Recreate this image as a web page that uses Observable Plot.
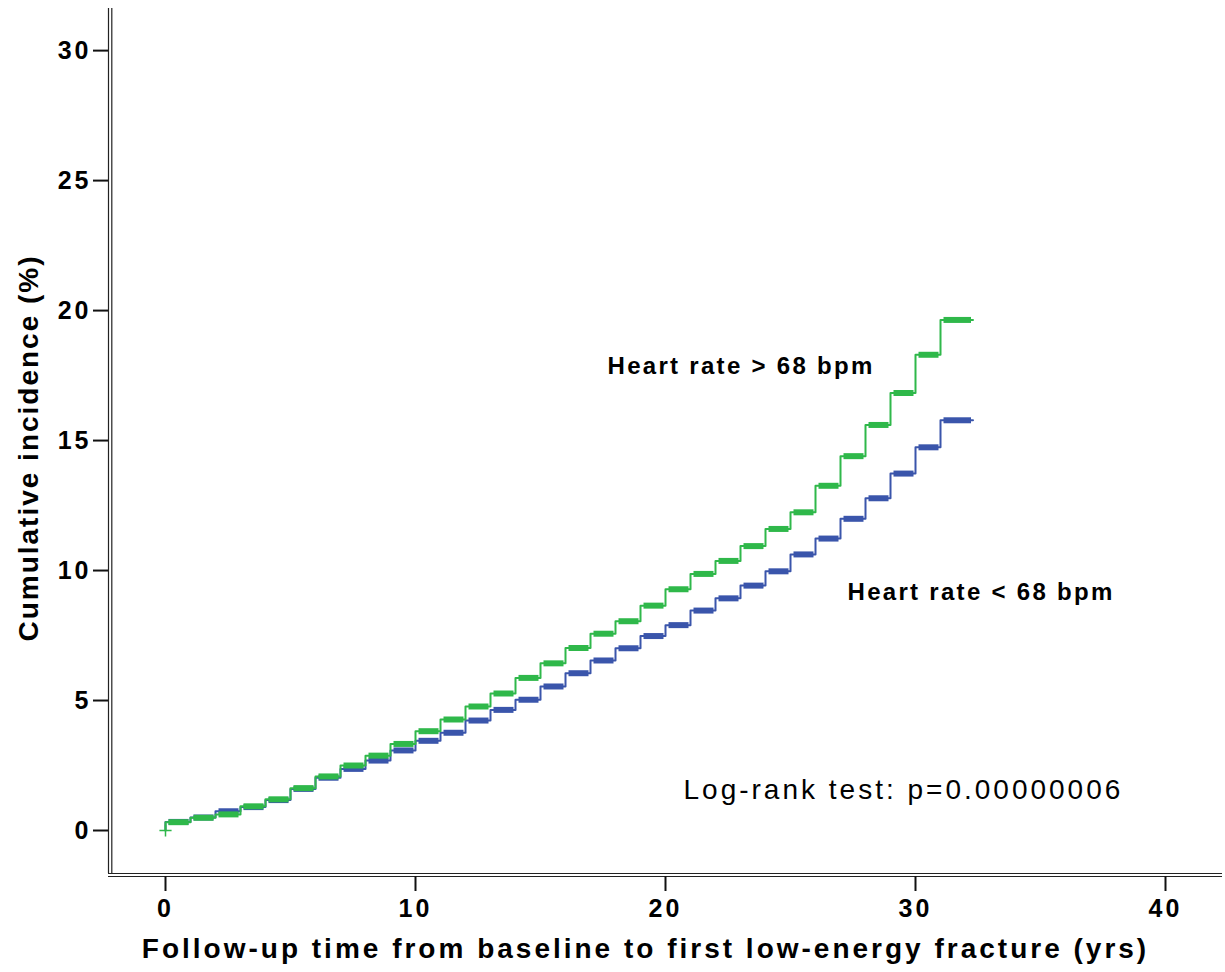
<!DOCTYPE html>
<html>
<head>
<meta charset="utf-8">
<script src="https://cdn.jsdelivr.net/npm/d3@7"></script>
<script src="https://cdn.jsdelivr.net/npm/@observablehq/plot@0.6"></script>
<style>
  body { margin: 0; background: #fff; }
  #chart svg { display: block; }
</style>
</head>
<body>
<div id="chart"></div>
<script>
// ---- data ----
const stepYears = [0,1,2,3,4,5,6,7,8,9,10,11,12,13,14,15,16,17,18,19,20,21,22,23,24,25,26,27,28,29,30,31];
const endYear = 32.3;
// Heart rate > 68 bpm (green)
const highHRLevels = [0.32,0.49,0.62,0.93,1.2,1.63,2.08,2.5,2.88,3.33,3.82,4.27,4.77,5.27,5.87,6.43,7.02,7.57,8.05,8.65,9.28,9.87,10.37,10.94,11.6,12.24,13.26,14.4,15.6,16.83,18.3,19.64];
// Heart rate < 68 bpm (blue)
const lowHRLevels = [0.33,0.5,0.74,0.9,1.17,1.6,2.03,2.37,2.69,3.08,3.45,3.76,4.23,4.64,5.03,5.54,6.05,6.54,7.01,7.48,7.9,8.46,8.93,9.42,9.97,10.62,11.23,11.99,12.78,13.73,14.74,15.78];
const groupNames = ["Heart rate > 68 bpm", "Heart rate < 68 bpm"];
const groupColors = ["#2fb84a", "#3a55ab"];
const xTicks = [0, 10, 20, 30, 40];
const yTicks = [0, 5, 10, 15, 20, 25, 30];
const xTitle = "Follow-up time from baseline to first low-energy fracture (yrs)";
const yTitle = "Cumulative incidence (%)";
const testText = "Log-rank test: p=0.00000006";

// ---- build tables ----
function curve(levels, group) {
  const pts = [{t: 0, v: 0, group}];
  stepYears.forEach((t, i) => pts.push({t, v: levels[i], group}));
  pts.push({t: endYear, v: levels[levels.length - 1], group});
  return pts;
}
function segments(levels, group) {
  return stepYears.map((t, i) => ({
    t1: t,
    t2: i < stepYears.length - 1 ? stepYears[i + 1] : endYear,
    v: levels[i],
    group
  }));
}
const lowCurve = curve(lowHRLevels, groupNames[1]);
const highCurve = curve(highHRLevels, groupNames[0]);
const lowSegs = segments(lowHRLevels, groupNames[1]);
const highSegs = segments(highHRLevels, groupNames[0]);

const X0 = -2.28, X1 = 42.28, Y0 = -1.654, Y1 = 31.62;
const font = "'Liberation Sans', Arial, Helvetica, sans-serif";

const chart = Plot.plot({
  width: 1225,
  height: 972,
  marginLeft: 108,
  marginRight: 3,
  marginTop: 8,
  marginBottom: 99,
  x: {domain: [X0, X1]},
  y: {domain: [Y0, Y1]},
  color: {domain: groupNames, range: groupColors},
  style: {fontFamily: font, background: "#fff", color: "#000", overflow: "visible"},
  marks: [
    // axes frame (double lines)
    Plot.ruleX([X0], {stroke: "#222", strokeWidth: 1.2}),
    Plot.ruleX([X0], {stroke: "#222", strokeWidth: 1.2, dx: 3.3}),
    Plot.ruleY([Y0], {stroke: "#222", strokeWidth: 1.2}),
    Plot.ruleY([Y0], {stroke: "#222", strokeWidth: 1.2, dy: 3}),
    Plot.axisY({ticks: yTicks, tickSize: 15, tickPadding: 2, fontSize: 25, fontWeight: "bold", label: null, stroke: "#111", strokeWidth: 2, tickFormat: d => String(d)}),
    Plot.axisX({ticks: xTicks, tickSize: 15, tickPadding: 8, fontSize: 25, fontWeight: "bold", label: null, stroke: "#111", strokeWidth: 2, dy: 3, tickFormat: d => String(d)}),
    // step curves
    Plot.line(lowCurve, {x: "t", y: "v", stroke: "group", strokeWidth: 2, curve: "step-after"}),
    Plot.ruleY(lowSegs, {y: "v", x1: d => d.t1 + 0.14, x2: d => d.t2 - 0.06, stroke: "group", strokeWidth: 6}),
    Plot.line(highCurve, {x: "t", y: "v", stroke: "group", strokeWidth: 2, curve: "step-after"}),
    Plot.ruleY(highSegs, {y: "v", x1: d => d.t1 + 0.14, x2: d => d.t2 - 0.06, stroke: "group", strokeWidth: 6}),
    Plot.dot(highCurve.slice(0, 1), {x: "t", y: "v", stroke: "group", symbol: "plus", r: 4, strokeWidth: 1.5}),
    // annotations
    Plot.text([groupNames[0]], {x: 17.68, y: 17.85, text: d => d, textAnchor: "start", fontSize: 24, fontWeight: "bold", fill: "#000"}),
    Plot.text([groupNames[1]], {x: 27.28, y: 9.15, text: d => d, textAnchor: "start", fontSize: 24, fontWeight: "bold", fill: "#000"}),
    Plot.text([testText], {x: 20.72, y: 1.54, text: d => d, textAnchor: "start", fontSize: 28, fontWeight: "normal", fill: "#000"}),
    // axis titles
    Plot.text([xTitle], {frameAnchor: "bottom", text: d => d, textAnchor: "middle", dx: -20, dy: 76, lineAnchor: "middle", fontSize: 28, fontWeight: "bold", fill: "#000"}),
    Plot.text([yTitle], {frameAnchor: "left", text: d => d, textAnchor: "middle", dx: -79, dy: 7, rotate: -90, lineAnchor: "middle", fontSize: 28, fontWeight: "bold", fill: "#000"})
  ]
});
document.getElementById("chart").append(chart);

// letter spacing like the original (SPSS-style spaced text)
const spacing = new Map([
  [groupNames[0], 2.3], [groupNames[1], 2.3],
  [testText, 3], [xTitle, 3], [yTitle, 2]
]);
d3.select(chart).selectAll("text").each(function() {
  const s = this.textContent;
  let ls = spacing.get(s);
  if (ls === undefined && /^\d+$/.test(s)) ls = 3;
  if (ls !== undefined) {
    this.style.letterSpacing = ls + "px";
    this.setAttribute("letter-spacing", ls);
  }
});
</script>
</body>
</html>
